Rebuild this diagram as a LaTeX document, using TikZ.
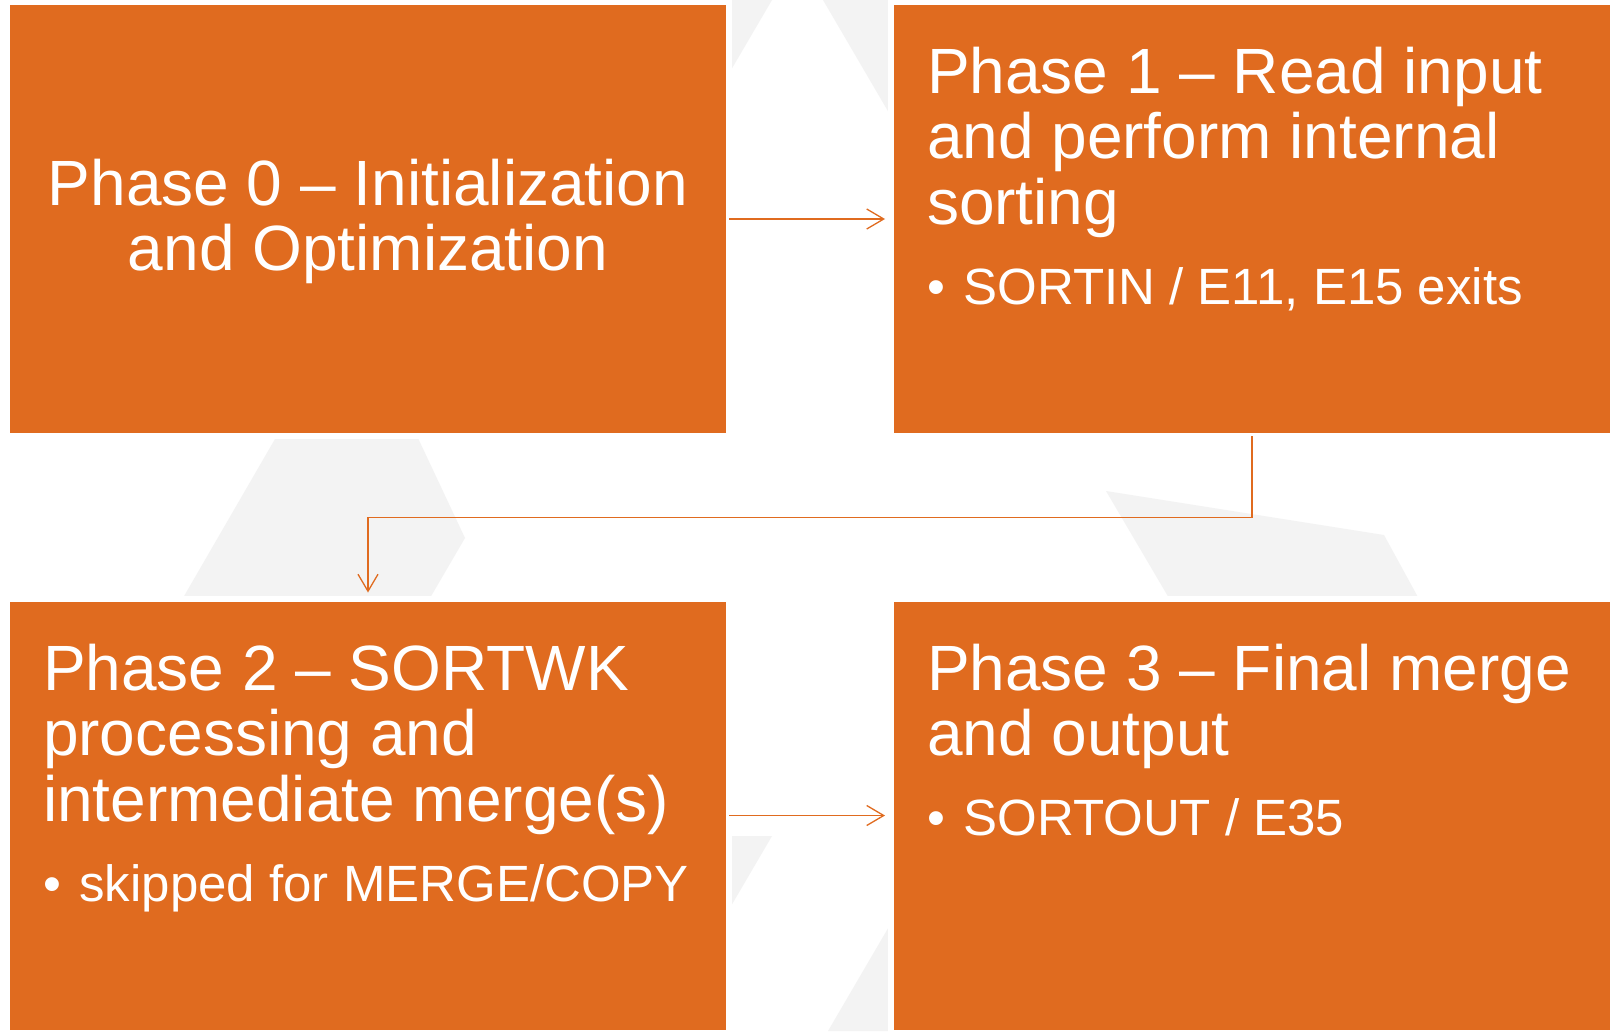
\documentclass[tikz,border=0pt]{standalone}
\usepackage{fontspec}
\setmainfont{Liberation Sans}
\usetikzlibrary{arrows.meta}
\definecolor{boxorange}{HTML}{E06B1F}
\definecolor{wmgray}{HTML}{F3F3F3}
\tikzset{
  phasebox/.style={rectangle, fill=boxorange, draw=white, line width=6pt,
    minimum width=722pt, minimum height=434pt, inner sep=0pt, outer sep=0pt},
  titletext/.style={text=white, inner sep=0pt, outer sep=0pt, text width=660pt,
    align=flush left, anchor=base west, font=\fontsize{64pt}{65.5pt}\selectfont},
  conn/.style={draw=boxorange, line width=1.3pt,
    -{Straight Barb[length=17pt,width=20pt,line width=1.3pt]}, shorten >=6pt},
  wm/.style={fill=wmgray, draw=none}
}
\newcommand{\bulletline}[1]{\par{\fontsize{51pt}{80pt}\selectfont\makebox[36.5pt][l]{•}#1\par}}
\begin{document}
\begin{tikzpicture}[x=1pt,y=-1pt]
\useasboundingbox (0,0) rectangle (1613,1031);
\fill[white] (0,0) rectangle (1613,1031);
% watermark shapes
\fill[wm] (700,0) -- (772,0) -- (700,123) -- cycle;
\fill[wm] (823,0) -- (920,0) -- (920,166) -- cycle;
\fill[wm] (286,420) -- (409.5,420) -- (465,538) -- (423,610) -- (176,610) -- cycle;
\fill[wm] (1106,491) -- (1384,535) -- (1425,610) -- (1176,610) -- cycle;
\fill[wm] (700,836) -- (772,836) -- (700,959) -- cycle;
\fill[wm] (828,1031) -- (920,873.5) -- (920,1031) -- cycle;
% boxes
\node[phasebox] (b0) at (368,219) {};
\node[phasebox] (b1) at (1252,219) {};
\node[phasebox] (b2) at (368,815.5) {};
\node[phasebox] (b3) at (1252,815.5) {};
% texts
\node[titletext, text width=700pt, align=flush center, anchor=base, yshift=14pt] (t0) at (b0.center)
  {Phase 0 – Initialization\\and Optimization};
\node[titletext, xshift=36pt, yshift=-91.3pt] (t1) at (b1.north west)
  {Phase 1 – Read input\\and perform internal\\sorting\bulletline{SORTIN / E11, E15 exits}};
\node[titletext, xshift=36pt, yshift=-91.5pt] (t2) at (b2.north west)
  {Phase 2 – SORTWK\\processing and\\intermediate merge(s)\bulletline{skipped for MERGE/COPY}};
\node[titletext, xshift=36pt, yshift=-91.5pt] (t3) at (b3.north west)
  {Phase 3 – Final merge\\and output\bulletline{SORTOUT / E35}};
% connectors
\coordinate (mid) at (0,517.5);
\draw[conn] (b0.east) -- (b1.west);
\draw[conn] (b1.south) -- (b1.south |- mid) -| (b2.north);
\draw[conn] (b2.east) -- (b3.west);
\end{tikzpicture}
\end{document}
